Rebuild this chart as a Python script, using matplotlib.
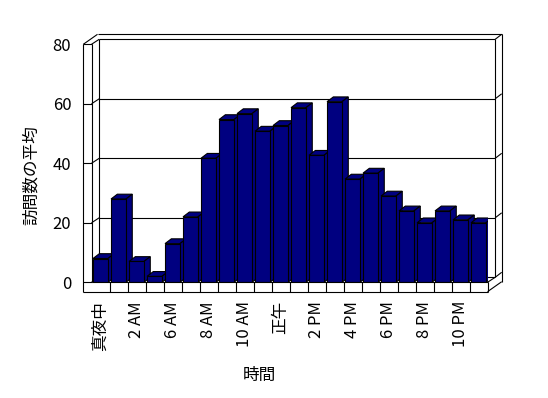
import matplotlib
matplotlib.use("Agg")
import matplotlib.pyplot as plt
from matplotlib.patches import Polygon
import numpy as np

plt.rcParams['font.family'] = ['Noto Sans CJK JP', 'DejaVu Sans']

# ---- data ----
hours = ["真夜中", "1 AM", "2 AM", "5 AM", "6 AM", "7 AM", "8 AM", "9 AM",
         "10 AM", "11 AM", "正午", "1 PM", "2 PM", "3 PM", "4 PM", "5 PM",
         "6 PM", "7 PM", "8 PM", "9 PM", "10 PM", "11 PM"]
visits = [8.0, 28.0, 7.0, 2.0, 13.0, 22.0, 41.7, 54.7, 56.7, 50.8, 52.7,
          58.7, 42.7, 60.7, 34.7, 36.7, 29.0, 24.0, 20.0, 24.0, 21.0, 20.0]
yticks = [0, 20, 40, 60, 80]
xlabel = "時間"
ylabel = "訪問数の平均"

# ---- layout ----
W, H = 548, 398
fig = plt.figure(figsize=(W / 100, H / 100), dpi=100)
ax_l, ax_r, ax_top, ax_bot = 91.5, 487.5, 44.3, 282.3
ax = fig.add_axes([ax_l / W, 1 - ax_bot / H, (ax_r - ax_l) / W, (ax_bot - ax_top) / H])
n = len(hours)
x0, x1 = -0.5, n - 0.5
ax.set_xlim(x0, x1)
ax.set_ylim(0, 80)
for s in ax.spines.values():
    s.set_visible(False)

sx = (ax_r - ax_l) / (x1 - x0)
sy = (ax_bot - ax_top) / 80.0

def P(x, y, dx=0.0, dy=0.0):
    return (x + dx / sx, y + dy / sy)

D1 = (7.7, 5.0)      # front plane -> back plane
D2 = (6.5, 5.0)      # back wall thickness
DT = (D1[0] + D2[0], D1[1] + D2[1])
WL = 8.2             # left wall thickness
FL = 9.4             # floor thickness
B = (6.3, 4.8)       # bar depth

lkw = dict(color='black', lw=0.8, clip_on=False, solid_capstyle='butt')

def seg(p, q, z=1):
    ax.plot([p[0], q[0]], [p[1], q[1]], zorder=z, **lkw)

# walls and gridlines
for v in yticks:
    seg(P(x0, v, -WL, 0), P(x0, v))
    seg(P(x0, v), P(x0, v, *D1))
    seg(P(x0, v, *D1), P(x1, v, *D1))
    seg(P(x1, v, *D1), P(x1, v, *DT))
top = yticks[-1]
seg(P(x0, top, -WL, 0), P(x0, 0, -WL, -FL))
seg(P(x0, top, -WL, 0), P(x0, top, -WL + DT[0], DT[1]))
seg(P(x0, top, -WL + DT[0], DT[1]), P(x1, top, *DT))
seg(P(x1, top, *DT), P(x1, 0, DT[0], DT[1] - FL))
seg(P(x0, top), P(x0, 0))
seg(P(x0, top, *D1), P(x0, 0, *D1))
seg(P(x1, top, *D1), P(x1, 0, *D1))

# bars with 3D faces
navy = '#000080'
xs = np.arange(n)
bw = 0.83
bars = ax.bar(xs, visits, width=bw, color=navy, edgecolor='black', lw=0.8, zorder=3)
for i, (b, v) in enumerate(zip(bars, visits)):
    l, r = b.get_x(), b.get_x() + b.get_width()
    z = 3 + i * 0.1
    topf = Polygon([P(l, v), P(r, v), P(r, v, *B), P(l, v, *B)], closed=True,
                   fc=navy, ec='black', lw=0.8, zorder=z)
    side = Polygon([P(r, 0), P(r, v), P(r, v, *B), P(r, 0, *B)], closed=True,
                   fc=navy, ec='black', lw=0.8, zorder=z)
    ax.add_patch(topf)
    ax.add_patch(side)
    b.set_zorder(z + 0.05)

# floor
zf = 6
seg(P(x0, 0), P(x1, 0), zf)
seg(P(x0, 0, -WL, -FL), P(x1, 0, 0, -FL), zf)
seg(P(x1, 0), P(x1, 0, 0, -FL), zf)
for xc in np.arange(x0 + 1, x1, 1.0):
    seg(P(xc, 0), P(xc, 0, 0, -FL), zf)
seg(P(x1, 0, 0, -FL), P(x1, 0, DT[0], DT[1] - FL), zf)
seg(P(x1, 0), P(x1, 0, *D1), zf)

# ticks & labels
fs = 12
ax.set_yticks(yticks)
ax.set_yticklabels([str(t) for t in yticks], fontsize=fs)
ax.tick_params(axis='y', length=0, pad=14.5)
ax.set_xticks(xs[::2])
ax.set_xticklabels(hours[::2], rotation=90, fontsize=fs)
ax.tick_params(axis='x', length=0, pad=13.5)

fig.text(259 / W, 1 - 375.6 / H, xlabel, ha='center', va='center', fontsize=fs)
fig.text(31.5 / W, 1 - 175 / H, ylabel, ha='center', va='center', rotation=90, fontsize=fs)

fig.savefig("out.png", dpi=100)
